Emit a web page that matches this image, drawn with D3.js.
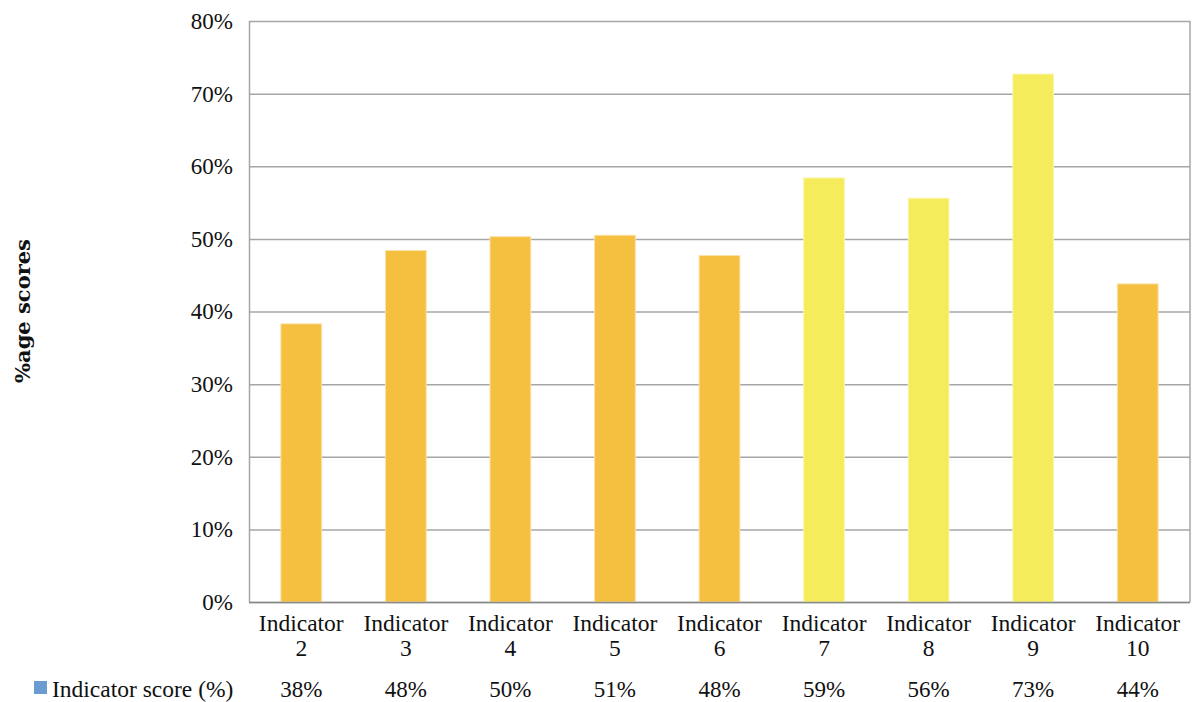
<!DOCTYPE html>
<html>
<head>
<meta charset="utf-8">
<script src="https://cdn.jsdelivr.net/npm/d3@7"></script>
<style>
body { margin: 0; background: #fff; }
text { font-family: "Liberation Serif", "Times New Roman", serif; fill: #111; }
</style>
</head>
<body>
<div id="chart"></div>
<script>
// data
var categories = ["Indicator 2", "Indicator 3", "Indicator 4", "Indicator 5", "Indicator 6",
                  "Indicator 7", "Indicator 8", "Indicator 9", "Indicator 10"]
var scores = [38.3, 48.4, 50.3, 50.5, 47.7, 58.4, 55.6, 72.7, 43.8]
var tableLabels = ["38%", "48%", "50%", "51%", "48%", "59%", "56%", "73%", "44%"]
var highlight = [false, false, false, false, false, true, true, true, false]
var yTicks = [0, 10, 20, 30, 40, 50, 60, 70, 80]

var w = 1192, h = 702
var mLeft = 249, mRight = 1190, mTop = 21, mBottom = 602

var svg = d3.select("#chart").append("svg")
    .attr("width", w)
    .attr("height", h)

var x = d3.scaleBand()
    .domain(categories)
    .range([mLeft, mRight])
    .paddingInner(0.61)
    .paddingOuter(0.305)

var y = d3.scaleLinear()
    .domain([0, 80])
    .range([mBottom, mTop])

// gridlines
svg.append("g")
    .selectAll("line")
    .data(yTicks)
    .enter().append("line")
        .attr("x1", mLeft)
        .attr("x2", mRight)
        .attr("y1", function(d) { return y(d) + 0.5 })
        .attr("y2", function(d) { return y(d) + 0.5 })
        .attr("stroke", "#a6a6a6")
        .attr("stroke-width", 1.5)

// plot border sides
svg.append("line")
    .attr("x1", mLeft + 0.5).attr("x2", mLeft + 0.5)
    .attr("y1", mTop).attr("y2", mBottom)
    .attr("stroke", "#a6a6a6").attr("stroke-width", 1.5)
svg.append("line")
    .attr("x1", mRight).attr("x2", mRight)
    .attr("y1", mTop).attr("y2", mBottom)
    .attr("stroke", "#a6a6a6").attr("stroke-width", 1.5)

// bars
svg.append("g")
    .selectAll("rect")
    .data(categories)
    .enter().append("rect")
        .attr("x", function(d) { return x(d) })
        .attr("width", x.bandwidth())
        .attr("y", function(d, i) { return y(scores[i]) })
        .attr("height", function(d, i) { return mBottom - y(scores[i]) })
        .attr("fill", function(d, i) { return highlight[i] ? "#f5ec5b" : "#f5bf3f" })
        .attr("stroke", function(d, i) { return highlight[i] ? "#fbf6b5" : "#fbe2a8" })
        .attr("stroke-width", 1)

// bottom axis line
svg.append("line")
    .attr("x1", mLeft).attr("x2", mRight)
    .attr("y1", mBottom + 0.5).attr("y2", mBottom + 0.5)
    .attr("stroke", "#888").attr("stroke-width", 1.5)

// y tick labels
var yAxis = d3.axisLeft(y)
    .tickValues(yTicks)
    .tickSize(0)
    .tickPadding(16)
    .tickFormat(function(d) { return d + "%" })

var ya = svg.append("g")
    .attr("transform", "translate(" + mLeft + ",0)")
    .call(yAxis)
ya.select(".domain").remove()
ya.selectAll("text")
    .attr("font-size", 23)
    .attr("fill", "#111")

// category labels, two lines
var cat = svg.append("g")
    .selectAll("text")
    .data(categories)
    .enter().append("text")
        .attr("text-anchor", "middle")
        .attr("font-size", 23.5)
        .attr("x", function(d) { return x(d) + x.bandwidth() / 2 })
        .attr("y", 631)
cat.append("tspan")
    .attr("x", function(d) { return x(d) + x.bandwidth() / 2 })
    .text(function(d) { return d.split(" ")[0] })
cat.append("tspan")
    .attr("x", function(d) { return x(d) + x.bandwidth() / 2 })
    .attr("dy", 25)
    .text(function(d) { return d.split(" ")[1] })

// data table row
svg.append("g")
    .selectAll("text")
    .data(tableLabels)
    .enter().append("text")
        .attr("text-anchor", "middle")
        .attr("font-size", 23)
        .attr("x", function(d, i) { return x(categories[i]) + x.bandwidth() / 2 })
        .attr("y", 697)
        .text(function(d) { return d })

svg.append("rect")
    .attr("x", 34).attr("y", 681)
    .attr("width", 13).attr("height", 13)
    .attr("fill", "#6a9bd1")
svg.append("text")
    .attr("x", 52).attr("y", 697)
    .attr("font-size", 23.5)
    .text("Indicator score (%)")

// y axis title
svg.append("text")
    .attr("transform", "translate(30,311) rotate(-90)")
    .attr("text-anchor", "middle")
    .attr("font-size", 21)
    .attr("font-weight", "bold")
    .style("font-family", "'DejaVu Serif', serif")
    .text("%age scores")
</script>
</body>
</html>
